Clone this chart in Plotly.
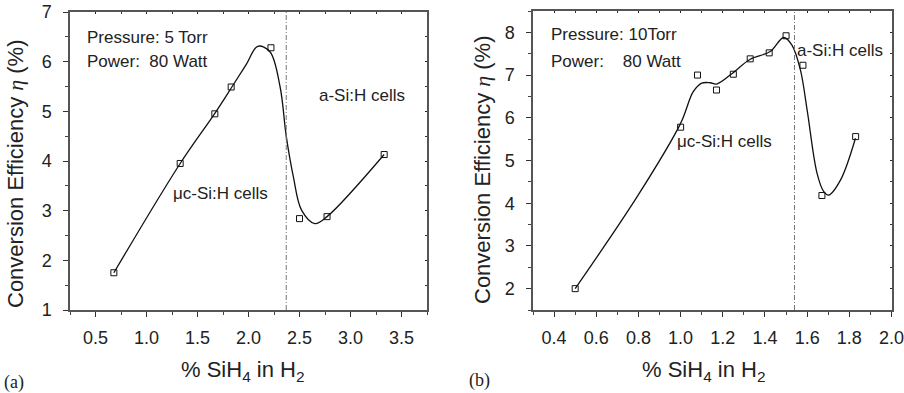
import plotly.graph_objects as go

# ---------------- data ----------------
# panel (a): Pressure 5 Torr
a_x = [0.68, 1.33, 1.67, 1.83, 2.22, 2.50, 2.77, 3.33]
a_y = [1.75, 3.95, 4.95, 5.49, 6.28, 2.84, 2.88, 4.13]
# hand-drawn guide curve (a), key points
a_curve_x = [0.68, 1.33, 1.67, 1.84, 1.98, 2.09, 2.21, 2.31, 2.37, 2.44, 2.52, 2.65, 2.77, 3.33]
a_curve_y = [1.75, 3.95, 4.96, 5.50, 5.95, 6.31, 6.20, 5.49, 4.50, 3.68, 3.01, 2.74, 2.88, 4.13]
a_boundary = 2.37

# panel (b): Pressure 10 Torr
b_x = [0.50, 1.00, 1.08, 1.17, 1.25, 1.33, 1.42, 1.50, 1.58, 1.67, 1.83]
b_y = [2.00, 5.78, 7.00, 6.65, 7.02, 7.38, 7.52, 7.92, 7.23, 4.18, 5.56]
b_curve_x = [0.50, 0.80, 1.00, 1.06, 1.10, 1.14, 1.17, 1.24, 1.33, 1.425, 1.489,
             1.528, 1.568, 1.60, 1.647, 1.679, 1.702, 1.758, 1.829]
b_curve_y = [2.00, 4.20, 5.87, 6.61, 6.81, 6.82, 6.79, 7.02, 7.37, 7.55, 7.88,
             7.70, 7.12, 6.18, 4.70, 4.27, 4.19, 4.54, 5.52]
b_boundary = 1.54

a_xticks = [0.5, 1.0, 1.5, 2.0, 2.5, 3.0, 3.5]
a_yticks = [1, 2, 3, 4, 5, 6, 7]
b_xticks = [0.4, 0.6, 0.8, 1.0, 1.2, 1.4, 1.6, 1.8, 2.0]
b_yticks = [2, 3, 4, 5, 6, 7, 8]

# ---------------- figure ----------------
W, H = 904, 393
def px(x):
    return x / W
def py(y):
    return 1 - y / H

TXT = "#222222"
AX = "#555555"
FONT = "Liberation Sans, Arial, sans-serif"

fig = go.Figure()

marker = dict(symbol="square-open", size=6, color="#111111", line=dict(width=1, color="#111111"))
line = dict(color="#111111", width=1.3, shape="spline", smoothing=1.0)

fig.add_trace(go.Scatter(x=a_curve_x, y=a_curve_y, mode="lines", line=line,
                         xaxis="x", yaxis="y", hoverinfo="skip", showlegend=False))
fig.add_trace(go.Scatter(x=a_x, y=a_y, mode="markers", marker=marker,
                         xaxis="x", yaxis="y", showlegend=False))
fig.add_trace(go.Scatter(x=b_curve_x, y=b_curve_y, mode="lines", line=line,
                         xaxis="x2", yaxis="y2", hoverinfo="skip", showlegend=False))
fig.add_trace(go.Scatter(x=b_x, y=b_y, mode="markers", marker=marker,
                         xaxis="x2", yaxis="y2", showlegend=False))
# dummy traces for the inner-tick mirror axes
fig.add_trace(go.Scatter(x=[None], y=[None], xaxis="x3", yaxis="y3", showlegend=False, hoverinfo="skip"))
fig.add_trace(go.Scatter(x=[None], y=[None], xaxis="x4", yaxis="y4", showlegend=False, hoverinfo="skip"))

a_xr = [0.25, 3.75]
a_yr = [1, 7]
b_xr = [0.3, 2.0]
b_yr = [1.5, 8.5]

a_dom_x = [px(70), px(427)]
a_dom_y = [py(310), py(12)]
b_dom_x = [px(533), px(891.5)]
b_dom_y = [py(310), py(11)]

def main_axis(rng, dom, vals, dtick_minor, anchor):
    return dict(range=rng, domain=dom, anchor=anchor, tickmode="array", tickvals=vals,
                ticktext=[f"{v:.1f}" if isinstance(v, float) else str(v) for v in vals],
                ticks="outside", ticklen=5, tickwidth=1.3, tickcolor="#333333",
                minor=dict(dtick=dtick_minor, ticks="outside", ticklen=3, tickwidth=1, tickcolor="#444444", showgrid=False),
                showline=True, linecolor=AX, linewidth=1.5, mirror=True,
                showgrid=False, zeroline=False, ticklabeloverflow="allow",
                tickfont=dict(family=FONT, size=18, color=TXT))

def mirror_axis(rng, dom, vals, dtick_minor, overlay, side, anchor):
    return dict(range=rng, domain=dom, overlaying=overlay, side=side, anchor=anchor,
                tickmode="array", tickvals=vals, showticklabels=False,
                ticks="inside", ticklen=2, tickwidth=1.3, tickcolor="#222222",
                minor=dict(dtick=dtick_minor, ticks="inside", ticklen=2, tickwidth=1, tickcolor="#333333", showgrid=False),
                showline=False, showgrid=False, zeroline=False)

xa = main_axis(a_xr, a_dom_x, a_xticks, 0.25, "y")
xa["minor"]["tick0"] = 0.25
xa["ticklabelstandoff"] = 6
ya = main_axis(a_yr, a_dom_y, a_yticks, 0.5, "x")
ya["ticklabelstandoff"] = 8
xb = main_axis(b_xr, b_dom_x, b_xticks, 0.1, "y2")
xb["minor"]["tick0"] = 0.3
xb["ticklabelstandoff"] = 6
yb = main_axis(b_yr, b_dom_y, b_yticks, 0.5, "x2")
yb["ticklabelstandoff"] = 8

fig.update_layout(
    width=W, height=H, margin=dict(l=0, r=0, t=0, b=0),
    template="none", paper_bgcolor="white", plot_bgcolor="white",
    showlegend=False,
    xaxis=xa, yaxis=ya, xaxis2=xb, yaxis2=yb,
    xaxis3=dict(mirror_axis(a_xr, a_dom_x, a_xticks, 0.25, "x", "top", "y3")),
    yaxis3=dict(mirror_axis(a_yr, a_dom_y, a_yticks, 0.5, "y", "right", "x3")),
    xaxis4=dict(mirror_axis(b_xr, b_dom_x, b_xticks, 0.1, "x2", "top", "y4")),
    yaxis4=dict(mirror_axis(b_yr, b_dom_y, b_yticks, 0.5, "y2", "right", "x4")),
)
fig.layout.xaxis3.minor.tick0 = 0.25
fig.layout.xaxis4.minor.tick0 = 0.3

# boundary lines between μc-Si:H and a-Si:H regimes
dd = "5px,2px,1px,2px"
fig.add_shape(type="line", xref="x", yref="paper", x0=a_boundary, x1=a_boundary,
              y0=a_dom_y[0], y1=a_dom_y[1], line=dict(color="#777777", width=1, dash=dd))
fig.add_shape(type="line", xref="x2", yref="paper", x0=b_boundary, x1=b_boundary,
              y0=b_dom_y[0], y1=b_dom_y[1], line=dict(color="#777777", width=1, dash=dd))

def note(text, x, y, size=17, xanchor="left", family=FONT, angle=0):
    fig.add_annotation(text=text, x=px(x), y=py(y), xref="paper", yref="paper",
                       xanchor=xanchor, yanchor="middle", showarrow=False, textangle=angle,
                       font=dict(family=family, size=size, color=TXT))

# panel (a) texts
note("Pressure: 5 Torr", 85, 37)
note("Power:  80 Watt", 85, 61)
note("a-Si:H cells", 317, 96)
note("μc-Si:H cells", 171, 193)
# panel (b) texts
note("Pressure: 10Torr", 549, 34)
note("Power:    80 Watt", 549, 61)
note("a-Si:H cells", 795, 50)
note("μc-Si:H cells", 675, 141)

eta = '<span style="font-family:Liberation Serif, Times New Roman, serif"><i>η</i></span>'
xtitle = "% SiH<sub>4</sub> in H<sub>2</sub>"
note(xtitle, 243, 371, size=22, xanchor="center")
note(xtitle, 704, 371, size=22, xanchor="center")
note(f"Conversion Efficiency {eta} (%)", 15, 174, size=22, xanchor="center", angle=-90)
note(f"Conversion Efficiency {eta} (%)", 482, 170, size=22, xanchor="center", angle=-90)

note("(a)", 2, 382, size=18, family="Liberation Serif, Times New Roman, serif")
note("(b)", 467, 380, size=18, family="Liberation Serif, Times New Roman, serif")

fig.write_html("out.html")
